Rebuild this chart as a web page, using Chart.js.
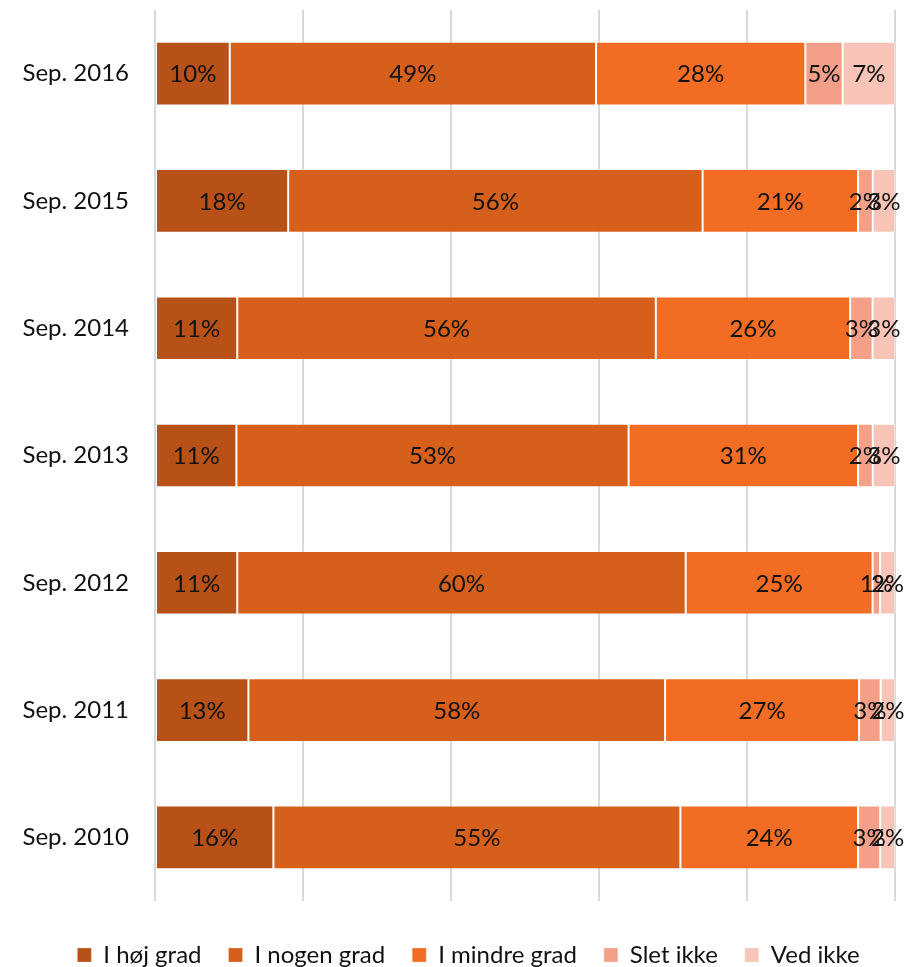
<!DOCTYPE html>
<html>
<head>
<meta charset="utf-8">
<script src="https://cdn.jsdelivr.net/npm/chart.js@4"></script>
<style>
  html, body { margin: 0; padding: 0; background: #ffffff; }
  #wrap { width: 905px; height: 967px; }
</style>
</head>
<body>
<div id="wrap"><canvas id="c" width="905" height="967"></canvas></div>
<script>
const categories = ['Sep. 2016', 'Sep. 2015', 'Sep. 2014', 'Sep. 2013', 'Sep. 2012', 'Sep. 2011', 'Sep. 2010'];
const seriesNames = ['I høj grad', 'I nogen grad', 'I mindre grad', 'Slet ikke', 'Ved ikke'];
const hojGrad    = [10, 18, 11, 11, 11, 13, 16];
const nogenGrad  = [49, 56, 56, 53, 60, 58, 55];
const mindreGrad = [28, 21, 26, 31, 25, 27, 24];
const sletIkke   = [5, 2, 3, 2, 1, 3, 3];
const vedIkke    = [7, 3, 3, 3, 2, 2, 2];
const xTicks = [0, 20, 40, 60, 80, 100];

const colors = ['#B85117', '#D65F1C', '#F26D23', '#F4A088', '#F8C4B7'];
const rawSeries = [hojGrad, nogenGrad, mindreGrad, sletIkke, vedIkke];

// 100% stacked: share of each category's total
const totals = categories.map((_, i) => rawSeries.reduce((s, arr) => s + arr[i], 0));
const datasets = rawSeries.map((arr, k) => ({
  label: seriesNames[k],
  data: arr.map((v, i) => v / totals[i] * 100),
  raw: arr,
  backgroundColor: colors[k],
  borderColor: 'rgba(255,255,255,0.25)',
  borderWidth: 1,
  borderSkipped: false,
  categoryPercentage: 1.0,
  barPercentage: 0.5
}));

const FONT = 'Lato';

const valueLabels = {
  id: 'valueLabels',
  afterDatasetsDraw(chart) {
    const ctx = chart.ctx;
    ctx.save();
    ctx.font = '24px ' + FONT;
    ctx.fillStyle = '#111111';
    ctx.textAlign = 'center';
    ctx.textBaseline = 'middle';
    chart.data.datasets.forEach((ds, k) => {
      const meta = chart.getDatasetMeta(k);
      meta.data.forEach((el, i) => {
        const p = el.getCenterPoint();
        ctx.fillText(ds.raw[i] + '%', p.x, p.y + 1);
      });
    });
    ctx.restore();
  }
};

const legendShift = {
  id: 'legendShift',
  afterLayout(chart) {
    const lg = chart.legend;
    if (lg) {
      lg.top += 10; lg.bottom += 10;
      lg.left += 21; lg.right += 21;
    }
  }
};

new Chart(document.getElementById('c'), {
  type: 'bar',
  data: { labels: categories, datasets: datasets },
  options: {
    responsive: false,
    devicePixelRatio: 1,
    animation: false,
    indexAxis: 'y',
    layout: { padding: { top: 10, left: 0, right: 10, bottom: 0 } },
    scales: {
      x: {
        stacked: true,
        min: 0,
        max: 100,
        afterBuildTicks(axis) { axis.ticks = xTicks.map(v => ({ value: v })); },
        afterFit(axis) { axis.height = 5; axis.paddingLeft = 0; axis.paddingRight = 0; },
        ticks: { display: false },
        grid: { color: '#D9D9D9', lineWidth: 2, drawTicks: false },
        border: { display: false }
      },
      y: {
        stacked: true,
        afterFit(axis) { axis.width = 155; axis.paddingTop = 0; axis.paddingBottom = 0; },
        grid: { display: false, drawTicks: false },
        border: { display: false },
        ticks: { color: '#111111', font: { family: FONT, size: 24 }, padding: 26 }
      }
    },
    plugins: {
      legend: {
        position: 'bottom',
        labels: {
          color: '#111111',
          font: { family: FONT, size: 24 },
          boxWidth: 14,
          boxHeight: 14,
          padding: 27
        }
      },
      tooltip: { enabled: false }
    }
  },
  plugins: [valueLabels, legendShift]
});
</script>
</body>
</html>
